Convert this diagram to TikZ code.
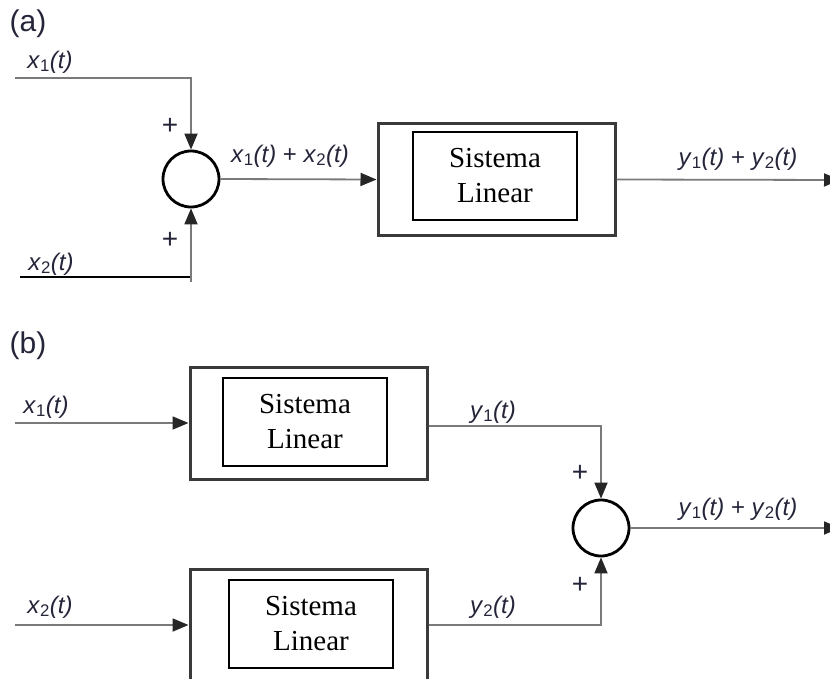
\documentclass[tikz,border=0pt]{standalone}
\usepackage{fontspec}
\setmainfont{Liberation Serif}
\newfontfamily\lblfont{Liberation Sans}
\usetikzlibrary{arrows.meta}

\definecolor{wiregray}{HTML}{7A7A7A}
\definecolor{boxgray}{HTML}{3A3A3A}
\definecolor{labelink}{HTML}{25253A}

% signal name: italic letter, upright subscript digit, italic (t)
\newcommand\signame[2]{\textit{#1}\textsubscript{#2}\textit{(t)}}

\begin{document}
\begin{tikzpicture}[x=1pt,y=-1pt,
  wire/.style={draw=wiregray, line width=1.8pt},
  tip/.style={-{Triangle[length=16pt,width=13pt,color=black!85]}},
  sumnode/.style={circle, draw=black, line width=2.8pt, minimum size=56pt, inner sep=0pt},
  outerbox/.style={draw=boxgray, line width=3pt, minimum width=237pt, minimum height=112pt, inner sep=0pt},
  innerbox/.style={draw=black, line width=1.1pt, minimum width=164pt, minimum height=88pt,
    inner sep=0pt, align=center, font=\fontsize{29}{35}\selectfont},
  sig/.style={font=\lblfont\fontsize{24}{27}\selectfont, text=labelink, inner sep=0pt},
  plus/.style={font=\lblfont\fontsize{28}{30}\selectfont, text=labelink, inner sep=0pt},
  panel/.style={font=\lblfont\fontsize{30}{34}\selectfont, text=labelink, inner sep=0pt}]

\useasboundingbox (0,0) rectangle (830,679);
\clip (0,0) rectangle (830,679);

% ---------------- (a) superposition before the system ----------------
\node[panel] (pa) at (28,24) {(a)};

\node[sumnode] (sa) at (191,179) {};
\node[outerbox] (ba) at (496.5,179.5) {};
\node[innerbox] (ia) at (495,176) {Sistema\\Linear};

\coordinate (xa1) at (15,78);
\coordinate (ka1) at (191,78);
\coordinate (xa2) at (20,277);
\coordinate (ka2) at (190,277);
\coordinate (ea2) at (191,282);
\coordinate (oa) at (840,180);

\draw[wire, tip] (xa1) -- (ka1) -- (sa.north);
\draw[black, line width=2pt] (xa2) -- (ka2);
\draw[wire, tip] (ea2) -- (sa.south);
\draw[wire, tip] (sa.east) -- (ba.west);
\draw[wire, tip] (ba.east) -- (oa);

\node[sig] (la1) at (50,62) {\signame{x}{1}};
\node[sig] (la2) at (51,264) {\signame{x}{2}};
\node[plus] (pa1) at (170,126) {+};
\node[plus] (pa2) at (170,240) {+};
\node[sig] (las) at (290,156) {\signame{x}{1} + \signame{x}{2}};
\node[sig] (lao) at (738,159) {\signame{y}{1} + \signame{y}{2}};

% ---------------- (b) superposition after the systems ----------------
\node[panel] (pb) at (28,346) {(b)};

\node[outerbox] (bb1) at (308.5,423) {};
\node[innerbox] (ib1) at (305,422) {Sistema\\Linear};
\node[outerbox] (bb2) at (308.5,625) {};
\node[innerbox] (ib2) at (311,624) {Sistema\\Linear};
\node[sumnode] (sb) at (601,528) {};

\coordinate (xb1) at (15,423);
\coordinate (xb2) at (15,625);
\coordinate (kb1) at (601,426);
\coordinate (kb2) at (601,625);
\coordinate (ob) at (840,528);

\draw[wire, tip] (xb1) -- (bb1.west);
\draw[wire, tip] (xb2) -- (bb2.west);
\draw[wire, tip] (bb1.east |- kb1) -- (kb1) -- (sb.north);
\draw[wire, tip] (bb2.east) -- (kb2) -- (sb.south);
\draw[wire, tip] (sb.east) -- (ob);

\node[sig] (lb1) at (46,407) {\signame{x}{1}};
\node[sig] (lb2) at (50,607) {\signame{x}{2}};
\node[sig] (ly1) at (493,412) {\signame{y}{1}};
\node[sig] (ly2) at (493,607) {\signame{y}{2}};
\node[plus] (pb1) at (580,473) {+};
\node[plus] (pb2) at (580,585) {+};
\node[sig] (lbo) at (738,509) {\signame{y}{1} + \signame{y}{2}};
\end{tikzpicture}
\end{document}
